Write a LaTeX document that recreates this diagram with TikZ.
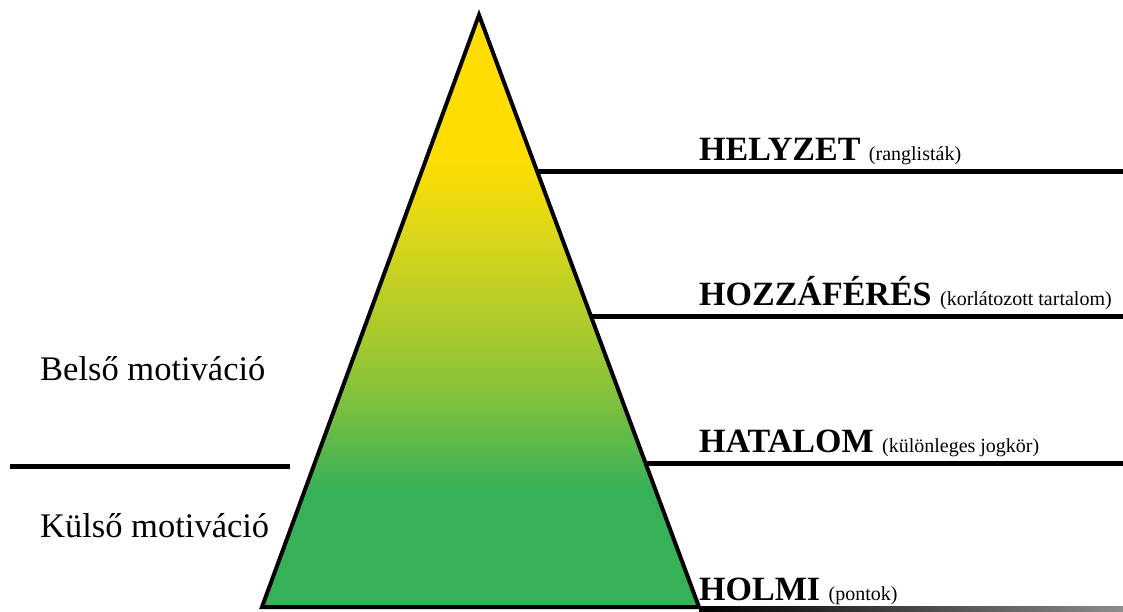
\documentclass[tikz,border=0pt]{standalone}
\usepackage{fontspec}
\setmainfont{Liberation Serif}
\usetikzlibrary{calc}
\definecolor{pyellow}{HTML}{FFDD00}
\definecolor{pyg1}{HTML}{D8D61A}
\definecolor{pyg2}{HTML}{AECB2B}
\definecolor{pyg3}{HTML}{7CC03F}
\definecolor{pgreen}{HTML}{37B157}
\pgfdeclareverticalshading{pyramidshade}{100bp}{color(0bp)=(pgreen); color(35bp)=(pgreen); color(42bp)=(pyg3); color(49bp)=(pyg2); color(56bp)=(pyg1); color(63bp)=(pyellow); color(100bp)=(pyellow)}
\newcommand\lvnotefont{\fontsize{20}{24}\selectfont\mdseries}
\tikzset{
  rule/.style={line width=5pt},
  levelname/.style={anchor=base west, inner sep=0pt, font=\fontsize{34}{40}\selectfont\bfseries},
  sidelabel/.style={anchor=base west, inner sep=0pt, font=\fontsize{34.5}{40}\selectfont},
}
\begin{document}
\begin{tikzpicture}[x=1pt,y=-1pt]
\useasboundingbox (0,0) rectangle (1123,611);
% triangle
\coordinate (apex) at (479,15);
\coordinate (bl) at (262,607);
\coordinate (br) at (699,607);
\shade[shading=pyramidshade] (apex) -- (br) -- (bl) -- cycle;
\draw[line width=4pt, line join=miter] (apex) -- (br) -- (bl) -- cycle;
% bottom line fading to the right
\shade[left color=black, right color=black!45] (699,606.5) rectangle (1123,611);
% level rules
\coordinate (e1) at ($(apex)!0.2635!(br)$);
\coordinate (e2) at ($(apex)!0.5084!(br)$);
\coordinate (e3) at ($(apex)!0.7568!(br)$);
\coordinate (r1) at (1123,171);
\coordinate (r2) at (1123,316);
\coordinate (r3) at (1123,463);
\draw[rule] (e1 |- r1) -- (r1);
\draw[rule] (e2 |- r2) -- (r2);
\draw[rule] (e3 |- r3) -- (r3);
% left separator
\coordinate (s1) at (10,466);
\coordinate (s2) at (290,466);
\draw[rule] (s1) -- (s2);
% labels
\node[levelname] (helyzet) at (699,160) {HELYZET {\lvnotefont(ranglisták)}};
\node[levelname] (hozza) at (699,305) {HOZZÁFÉRÉS {\lvnotefont(korlátozott tartalom)}};
\node[levelname] (hatalom) at (699,452) {HATALOM {\lvnotefont(különleges jogkör)}};
\node[levelname] (holmi) at (699,600) {HOLMI {\lvnotefont(pontok)}};
\node[sidelabel] (belso) at (40,380) {Belső motiváció};
\node[sidelabel] (kulso) at (40,537) {Külső motiváció};
\end{tikzpicture}
\end{document}
